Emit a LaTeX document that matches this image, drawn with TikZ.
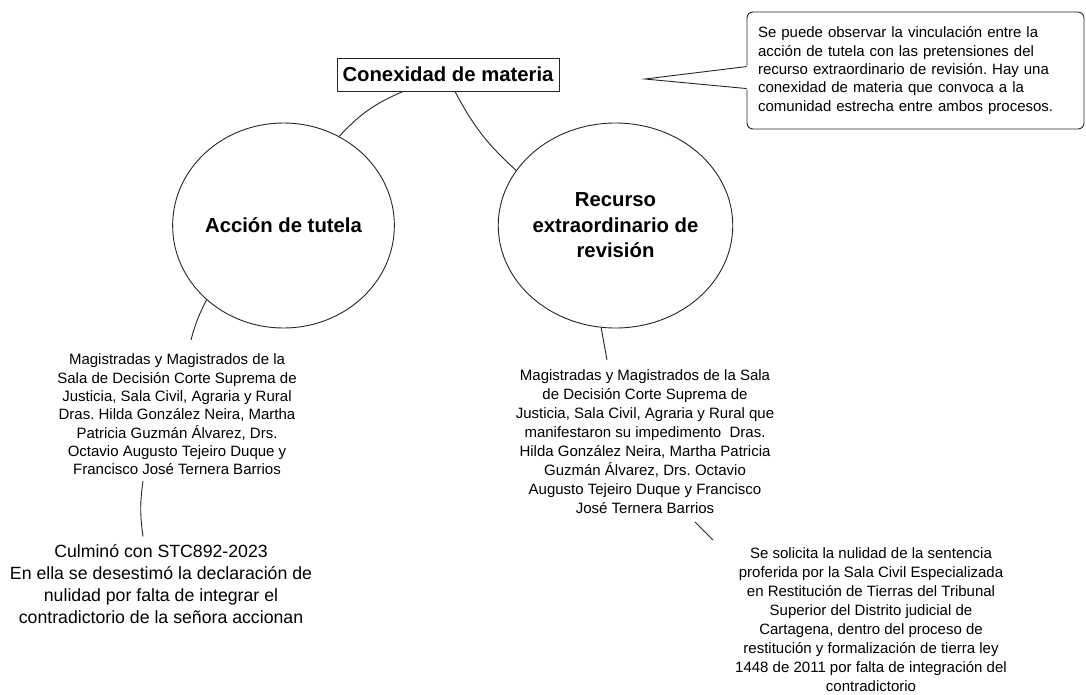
\documentclass[tikz,border=0pt]{standalone}
\usepackage{fontspec}
\setmainfont{Liberation Sans}
\frenchspacing
\usetikzlibrary{shapes.geometric,calc}
\begin{document}
\begin{tikzpicture}[x=1pt,y=-1pt,
 line/.style={draw=black!85, line width=0.9pt},
 bubble/.style={ellipse, draw=black!85, line width=0.9pt, minimum width=217pt, minimum height=205pt, inner sep=0pt, align=center, font=\fontsize{20.3}{25.5}\selectfont\bfseries},
 smalltext/.style={align=center, inner sep=6pt, font=\fontsize{15}{18.3}\selectfont},
 widetext/.style={align=center, inner sep=6pt, font=\fontsize{15}{19.1}\selectfont},
 bigtext/.style={align=center, inner sep=6pt, font=\fontsize{17.7}{21.8}\selectfont},
 titlebox/.style={draw=black!85, line width=0.9pt, minimum width=222pt, minimum height=33pt, inner sep=0pt, font=\fontsize{20.3}{24}\selectfont\bfseries},
 callout/.style={draw=black!85, line width=0.9pt, rounded corners=6pt, minimum width=337pt, minimum height=117pt, inner sep=0pt, text width=315pt, align=left, font=\fontsize{15}{18.4}\selectfont}
]
\useasboundingbox[fill=white] (0,0) rectangle (1086,694);

\node[titlebox] (title) at (448,74.5) {Conexidad de materia};

\node[callout] (co) at (915.5,70.5) {Se puede observar la vinculación entre la\\
acción de tutela con las pretensiones del\\
recurso extraordinario de revisión. Hay una\\
conexidad de materia que convoca a la\\
comunidad estrecha entre ambos procesos.};
\coordinate (tip) at (645,79);
\fill[white] ($(co.north west)+(1.2,54)$) -- (tip) -- ($(co.north west)+(1.2,78)$) -- cycle;
\draw[line] ($(co.north west)+(0,55)$) -- (tip) -- ($(co.north west)+(0,77)$);

\node[bubble] (lc) at (283.5,225.5) {Acción de tutela};
\node[bubble] (rc) at (615.5,225.5) {Recurso\\extraordinario de\\revisión};

\node[smalltext] (lt) at (177,414.5) {Magistradas y Magistrados de la\\
Sala de Decisión Corte Suprema de\\
Justicia, Sala Civil, Agraria y Rural\\
Dras. Hilda González Neira, Martha\\
Patricia Guzmán Álvarez, Drs.\\
Octavio Augusto Tejeiro Duque y\\
Francisco José Ternera Barrios};

\node[widetext] (rt) at (645,441.5) {Magistradas y Magistrados de la Sala\\
de Decisión Corte Suprema de\\
Justicia, Sala Civil, Agraria y Rural que\\
manifestaron su impedimento\ \ Dras.\\
Hilda González Neira, Martha Patricia\\
Guzmán Álvarez, Drs. Octavio\\
Augusto Tejeiro Duque y Francisco\\
José Ternera Barrios};

\node[bigtext] (stc) at (161,584) {Culminó con STC892-2023\\
En ella se desestimó la declaración de\\
nulidad por falta de integrar el\\
contradictorio de la señora accionan};

\node[widetext] (br) at (871,619.5) {Se solicita la nulidad de la sentencia\\
proferida por la Sala Civil Especializada\\
en Restitución de Tierras del Tribunal\\
Superior del Distrito judicial de\\
Cartagena, dentro del proceso de\\
restitución y formalización de tierra ley\\
1448 de 2011 por falta de integración del\\
contradictorio};

\draw[line] ($(title.south)+(-45,0)$) to[bend right=12] (lc.58);
\draw[line] ($(title.south)+(7,0)$) to[bend right=10] (rc.151);
\draw[line] (lc.224) to[bend right=6] ($(lt.north)+(14,-8)$);
\draw[line] (rc.262) -- ($(rt.north)+(-38,-3)$);
\draw[line] ($(lt.south)+(-34,0)$) to[bend right=8] ($(stc.north)+(-18,-2)$);
\draw[line] ($(rt.south)+(50,2)$) -- ($(br.north)+(-158,-1)$);
\end{tikzpicture}
\end{document}
